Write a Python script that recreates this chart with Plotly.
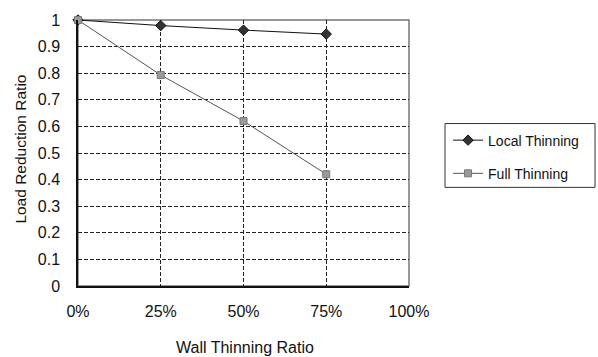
import plotly.graph_objects as go

x_ratio = [0, 25, 50, 75]
local_thinning = [1.0, 0.979, 0.962, 0.947]
full_thinning = [1.0, 0.793, 0.62, 0.42]
x_ticks = [0, 25, 50, 75, 100]
x_tick_labels = ["0%", "25%", "50%", "75%", "100%"]
y_ticks = [0, 0.1, 0.2, 0.3, 0.4, 0.5, 0.6, 0.7, 0.8, 0.9, 1]
y_tick_labels = ["0", "0.1", "0.2", "0.3", "0.4", "0.5", "0.6", "0.7", "0.8", "0.9", "1"]

FONT = "Liberation Sans, Arial, sans-serif"

fig = go.Figure()
fig.add_trace(go.Scatter(
    x=x_ratio, y=local_thinning, name="Local Thinning", mode="lines+markers",
    legendgroup="a",
    line=dict(color="#111111", width=1),
    marker=dict(symbol="diamond", size=8, color="#333333", line=dict(color="#111111", width=1)),
    cliponaxis=False,
))
fig.add_trace(go.Scatter(
    x=x_ratio, y=full_thinning, name="Full Thinning", mode="lines+markers",
    legendgroup="b",
    line=dict(color="#555555", width=1),
    marker=dict(symbol="square", size=7, color="#9a9a9a", line=dict(color="#777777", width=1)),
    cliponaxis=False,
))

fig.update_layout(
    width=598, height=357,
    margin=dict(l=78, r=189, t=16, b=71),
    paper_bgcolor="white", plot_bgcolor="white",
    font=dict(family=FONT, size=16, color="#111111"),
    showlegend=True,
    legend=dict(
        x=1.118, y=0.607, xanchor="left", yanchor="top",
        borderwidth=0, bgcolor="rgba(0,0,0,0)",
        font=dict(size=14), itemwidth=30, tracegroupgap=12,
        traceorder="grouped",
    ),
    xaxis=dict(
        range=[0, 100], tickvals=x_ticks, ticktext=x_tick_labels,
        showgrid=True, gridcolor="#222222", gridwidth=1, griddash="4px,2px",
        showline=True, linecolor="#111111", linewidth=1.5,
        ticks="", ticklabelstandoff=10, zeroline=False,
        tickfont=dict(size=16),
    ),
    yaxis=dict(
        range=[0, 1], tickvals=y_ticks, ticktext=y_tick_labels,
        showgrid=True, gridcolor="#222222", gridwidth=1, griddash="4px,2px",
        showline=True, linecolor="#111111", linewidth=1.5,
        ticks="", ticklabelstandoff=13, zeroline=False,
        tickfont=dict(size=16),
    ),
    shapes=[
        dict(type="rect", xref="paper", yref="paper", x0=0, y0=0, x1=1, y1=1,
             line=dict(color="#777777", width=1.5), layer="below"),
        dict(type="rect", xref="paper", yref="paper", x0=1.1088, y0=0.3708, x1=1.562, y1=0.6107,
             line=dict(color="#333333", width=1), fillcolor="rgba(0,0,0,0)", layer="below"),
    ],
    annotations=[
        dict(text="Wall Thinning Ratio", xref="paper", yref="paper", x=0.505, y=-0.231,
             xanchor="center", yanchor="middle", showarrow=False, font=dict(size=16)),
        dict(text="Load Reduction Ratio", xref="paper", yref="paper", x=-0.175, y=0.513,
             xanchor="center", yanchor="middle", textangle=-90, showarrow=False, font=dict(size=15.5)),
    ],
)

fig.write_html("out.html")
